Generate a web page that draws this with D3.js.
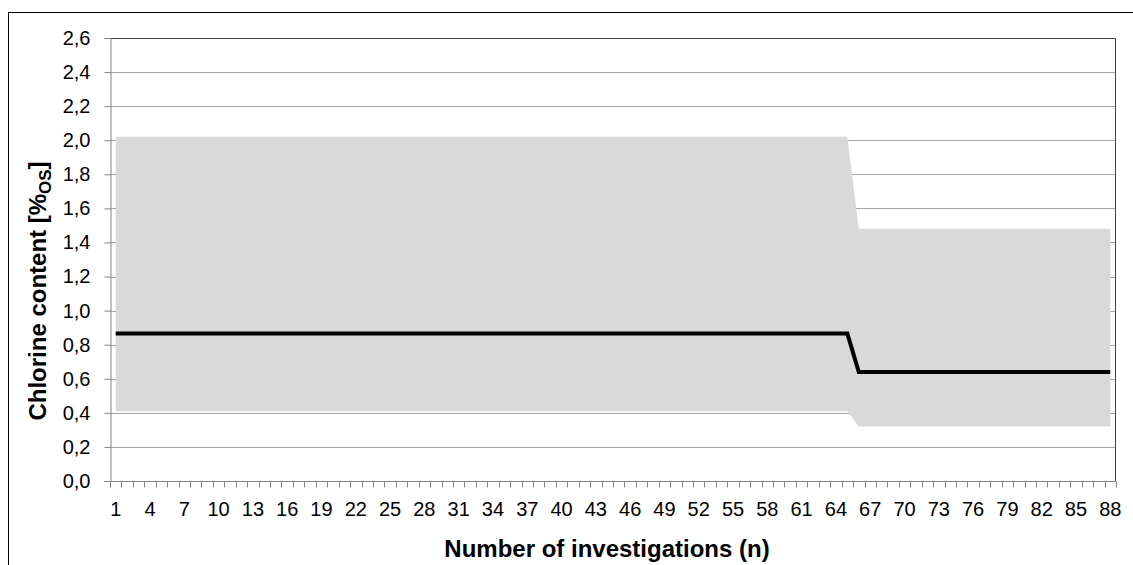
<!DOCTYPE html>
<html>
<head>
<meta charset="utf-8">
<script src="https://cdn.jsdelivr.net/npm/d3@7"></script>
<style>
  body { margin: 0; background: #fff; }
  text { font-family: "Liberation Sans", Arial, sans-serif; fill: #000; }
</style>
</head>
<body>
<div id="chart"></div>
<script>
// investigations 1..88, value changes after n = 65
var investigations = d3.range(1, 89);
var upperValues = investigations.map(function(n) { return n <= 65 ? 2.02 : 1.48; });
var meanValues = investigations.map(function(n) { return n <= 65 ? 0.865 : 0.64; });
var lowerValues = investigations.map(function(n) { return n <= 65 ? 0.41 : 0.32; });
var yTicks = [0, 0.2, 0.4, 0.6, 0.8, 1.0, 1.2, 1.4, 1.6, 1.8, 2.0, 2.2, 2.4, 2.6];
var xLabels = investigations.filter(function(n) { return (n - 1) % 3 === 0; });

var width = 1133, height = 565;
var margin = { top: 38, right: 17, bottom: 84, left: 110 };
var plotW = width - margin.left - margin.right;
var plotH = height - margin.top - margin.bottom;

var svg = d3.select('#chart').append('svg')
  .attr('width', width)
  .attr('height', height);

// outer chart frame
svg.append('rect')
  .attr('x', 8.5).attr('y', 12.5)
  .attr('width', width).attr('height', height)
  .attr('fill', 'none').attr('stroke', '#000').attr('stroke-width', 1);

var g = svg.append('g')
  .attr('transform', 'translate(' + margin.left + ',' + margin.top + ')');

var x = d3.scaleBand().domain(investigations).range([0, plotW]);
var y = d3.scaleLinear().domain([0, 2.6]).range([plotH, 0]);
var cx = function(n) { return x(n) + x.bandwidth() / 2; };

// gridlines
g.selectAll('.grid')
  .data(yTicks.slice(1))
  .enter().append('line')
  .attr('x1', 0).attr('x2', plotW)
  .attr('y1', function(d) { return Math.round(y(d)) + 0.5; })
  .attr('y2', function(d) { return Math.round(y(d)) + 0.5; })
  .attr('stroke', '#a6a6a6').attr('stroke-width', 1);

// range band
var area = d3.area()
  .x(function(d, i) { return cx(investigations[i]); })
  .y0(function(d, i) { return y(lowerValues[i]); })
  .y1(function(d, i) { return y(upperValues[i]); });

g.append('path')
  .datum(investigations)
  .attr('d', area)
  .attr('fill', '#d9d9d9');

// plot frame top/right
g.append('path')
  .attr('d', 'M0,0.5H' + (plotW - 0.5) + 'V' + plotH)
  .attr('fill', 'none').attr('stroke', '#404040').attr('stroke-width', 1);

// mean line
var line = d3.line()
  .x(function(d, i) { return cx(investigations[i]); })
  .y(function(d, i) { return y(meanValues[i]); });

g.append('path')
  .datum(investigations)
  .attr('d', line)
  .attr('fill', 'none')
  .attr('stroke', '#000')
  .attr('stroke-width', 4)
  .attr('stroke-linejoin', 'miter');

// y axis
var yAxis = g.append('g').attr('transform', 'translate(0.5,0)')
  .call(d3.axisLeft(y).tickValues(yTicks).tickSize(6).tickPadding(14)
    .tickFormat(function(d) { return d3.format('.1f')(d).replace('.', ','); }));
yAxis.select('.domain').attr('stroke', '#868686');
yAxis.selectAll('.tick line').attr('stroke', '#868686');
yAxis.selectAll('.tick text').style('font-size', '20px').attr('fill', '#000');

// x axis, ticks on category boundaries
var xAxis = g.append('g').attr('transform', 'translate(0,' + (plotH + 0.5) + ')');
xAxis.append('line')
  .attr('x1', -6).attr('x2', plotW)
  .attr('stroke', '#868686');
xAxis.selectAll('.xt')
  .data(investigations.concat([89]))
  .enter().append('line')
  .attr('x1', function(d) { return Math.round(d <= 88 ? x(d) : plotW) + 0.5; })
  .attr('x2', function(d) { return Math.round(d <= 88 ? x(d) : plotW) + 0.5; })
  .attr('y1', 0).attr('y2', 6)
  .attr('stroke', '#868686');
xAxis.selectAll('.xl')
  .data(xLabels)
  .enter().append('text')
  .attr('x', function(d) { return cx(d); })
  .attr('y', 34.5)
  .attr('text-anchor', 'middle')
  .style('font-size', '20px')
  .text(function(d) { return d; });

// axis titles
svg.append('text')
  .attr('x', 607)
  .attr('y', 557)
  .attr('text-anchor', 'middle')
  .style('font-size', '24px')
  .style('font-weight', 'bold')
  .text('Number of investigations (n)');

var yt = svg.append('text')
  .attr('transform', 'translate(46,291) rotate(-90)')
  .attr('text-anchor', 'middle')
  .style('font-size', '24px')
  .style('font-weight', 'bold');
yt.append('tspan').text('Chlorine content [%');
yt.append('tspan').attr('dy', 5).style('font-size', '17px').text('OS');
yt.append('tspan').attr('dy', -5).text(']');
</script>
</body>
</html>
